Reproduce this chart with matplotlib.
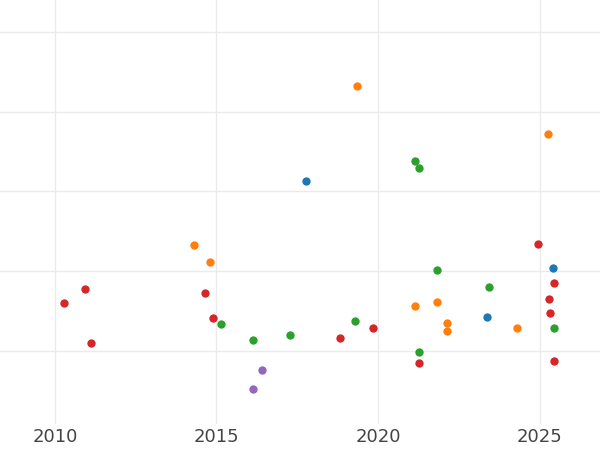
import matplotlib
matplotlib.use("Agg")
import matplotlib.pyplot as plt

blue_x = [2017.77, 2025.42, 2023.37]
blue_y = [3.13, 2.04, 1.42]
orange_x = [2019.35, 2025.26, 2014.30, 2014.80, 2021.15, 2021.83, 2022.14, 2022.14, 2024.30]
orange_y = [4.33, 3.72, 2.33, 2.11, 1.56, 1.61, 1.35, 1.25, 1.28]
green_x = [2021.15, 2021.27, 2021.83, 2023.44, 2015.14, 2016.13, 2017.28, 2019.29, 2021.27, 2025.45]
green_y = [3.38, 3.29, 2.01, 1.80, 1.33, 1.13, 1.20, 1.37, 0.98, 1.28]
red_x = [2010.28, 2010.93, 2011.11, 2014.64, 2014.89, 2018.82, 2019.85, 2024.95, 2025.45, 2025.29, 2025.33, 2021.27, 2025.45]
red_y = [1.60, 1.78, 1.09, 1.73, 1.41, 1.16, 1.29, 2.34, 1.85, 1.65, 1.47, 0.85, 0.87]
purple_x = [2016.41, 2016.13]
purple_y = [0.76, 0.52]

series = [(blue_x, blue_y, "#1f77b4"), (orange_x, orange_y, "#ff7f0e"),
          (green_x, green_y, "#2ca02c"), (red_x, red_y, "#d62728"),
          (purple_x, purple_y, "#9467bd")]

fig = plt.figure(figsize=(6, 4.5), dpi=100)
ax = fig.add_axes([0, 0.058, 1, 0.942])
for x, y, c in series:
    ax.scatter(x, y, s=36, color=c, zorder=3, linewidths=0)

ax.set_xlim(2008.3, 2026.87)
ax.set_ylim(0.08, 5.405)
ax.set_xticks([2010, 2015, 2020, 2025])
ax.set_yticks([1, 2, 3, 4, 5])
ax.set_yticklabels([])
ax.tick_params(axis="y", length=0)
ax.tick_params(axis="x", length=0, labelsize=13, labelcolor="#444444", pad=3)
ax.grid(True, color="#ebebeb", linewidth=1)
ax.set_axisbelow(True)
for s in ax.spines.values():
    s.set_visible(False)

fig.savefig("out.png", dpi=100)
